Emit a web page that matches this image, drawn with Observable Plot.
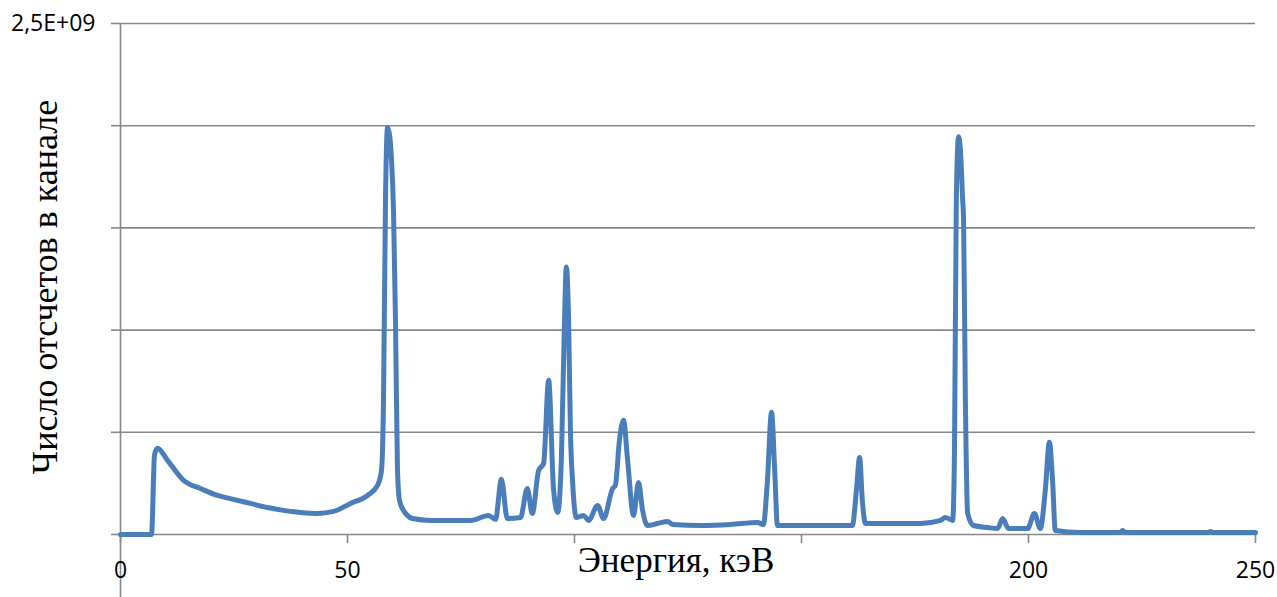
<!DOCTYPE html>
<html><head><meta charset="utf-8">
<script src="https://cdn.jsdelivr.net/npm/d3@7"></script>
<script src="https://cdn.jsdelivr.net/npm/@observablehq/plot@0.6"></script>
<style>
html,body{margin:0;padding:0;background:#fff;}
#chart{width:1277px;height:597px;overflow:hidden;}
</style>
</head><body><div id="chart"></div>
<script>
// Energy, keV
const energy = [0, 6.83, 7.5, 8.15, 10.35, 13.88, 17.62, 21.37, 24.89, 28.63, 32.38, 35.9, 39.65, 43.39, 46.92, 50.66, 54.41, 56.61, 57.49, 57.93, 58.37, 58.81, 59.25, 59.69, 60.13, 60.57, 61.01, 61.45, 62.33, 63.0, 64.3, 68.3, 72.7, 77.1, 81.06, 82.6, 83.9, 85.2, 88.1, 89.6, 90.7, 92.1, 93.2, 94.3, 95.4, 96.3, 97.1, 97.8, 98.2, 98.7, 99.1, 99.6, 100.4, 102.0, 103.1, 105.1, 106.4, 108.4, 109.0, 109.9, 110.8, 111.7, 113.0, 114.1, 115.0, 116.1, 118.3, 120.5, 121.6, 127.8, 134.4, 140.3, 141.6, 142.5, 143.4, 144.1, 144.7, 149.8, 156.4, 161.2, 162.1, 162.8, 163.4, 164.1, 171.8, 176.2, 180.6, 181.7, 183.3, 183.7, 184.1, 184.6, 185.0, 185.5, 185.7, 186.1, 186.6, 187.9, 191.0, 193.2, 194.3, 195.6, 199.8, 201.3, 202.6, 203.7, 204.6, 205.3, 205.9, 211.5, 220.3, 220.7, 221.4, 239.6, 240.1, 240.7, 250];
// Counts per channel
const counts = [0, 0, 3.9e8, 4.22e8, 3.63e8, 2.65e8, 2.25e8, 1.91e8, 1.72e8, 1.52e8, 1.32e8, 1.18e8, 1.08e8, 1.03e8, 1.13e8, 1.52e8, 1.91e8, 2.4e8, 3.14e8, 6.57e8, 1.637e9, 1.99e9, 1.956e9, 1.833e9, 1.588e9, 1.049e9, 3.14e8, 1.67e8, 1.18e8, 9.8e7, 7.8e7, 6.9e7, 6.9e7, 6.9e7, 9.3e7, 7.4e7, 2.7e8, 7.8e7, 8.3e7, 2.25e8, 1.03e8, 3.14e8, 3.48e8, 7.55e8, 2.16e8, 1.08e8, 3.63e8, 1.049e9, 1.309e9, 1.049e9, 5.1e8, 2.5e8, 8.3e7, 9.3e7, 6.9e7, 1.42e8, 7.8e7, 2.25e8, 2.4e8, 4.61e8, 5.59e8, 3.63e8, 9.3e7, 2.55e8, 1.18e8, 4.4e7, 5.4e7, 6.4e7, 4.9e7, 4.4e7, 4.9e7, 5.9e7, 4.9e7, 2.65e8, 5.98e8, 3.14e8, 4.4e7, 4.4e7, 4.4e7, 4.4e7, 2.16e8, 3.77e8, 1.67e8, 5.4e7, 5.4e7, 5.4e7, 6.9e7, 8.3e7, 6.9e7, 4.12e8, 1.637e9, 1.946e9, 1.882e9, 1.637e9, 1.539e9, 6.57e8, 1.03e8, 4.4e7, 3.4e7, 2.9e7, 7.8e7, 2.9e7, 2.9e7, 1.03e8, 2.9e7, 2.16e8, 4.51e8, 2.65e8, 2.0e7, 1.0e7, 1.0e7, 2.0e7, 1.0e7, 1.0e7, 1.5e7, 1.0e7, 1.0e7];

const xTicks = [0, 50, 100, 150, 200, 250];
const xTickLabels = ["0", "50", "", "", "200", "250"];
const yTicks = [0, 0.5e9, 1.0e9, 1.5e9, 2.0e9, 2.5e9];
const yTickLabels = ["", "", "", "", "", "2,5E+09"];
const xTitle = "Энергия, кэВ";
const yTitle = "Число отсчетов в канале";

const data = energy.map((e, i) => ({e, c: counts[i]}));
const xLab = new Map(xTicks.map((t, i) => [t, xTickLabels[i]]));
const yLab = new Map(yTicks.map((t, i) => [t, yTickLabels[i]]));
const gridColor = "#878787";

const svg = Plot.plot({
  width: 1277,
  height: 597,
  marginLeft: 120,
  marginRight: 22,
  marginTop: 23,
  marginBottom: 63,
  x: {domain: [0, 250], label: null},
  y: {domain: [0, 2.5e9], label: null},
  style: {fontFamily: "'Open Sans', sans-serif", fontSize: "23px", color: "#000", background: "#fff", overflow: "visible"},
  marks: [
    Plot.gridY(yTicks, {stroke: gridColor, strokeOpacity: 1, strokeWidth: 1.6}),
    Plot.ruleX([0], {stroke: gridColor, strokeWidth: 1.6, insetBottom: -63}),
    Plot.axisY(yTicks, {tickSize: 9, tickPadding: 16, tickFormat: d => yLab.get(d), stroke: gridColor, strokeWidth: 1.6, fill: "#000", label: null}),
    Plot.axisX(xTicks, {tickSize: 9, tickPadding: 18, tickFormat: d => xLab.get(d), stroke: gridColor, strokeWidth: 1.6, fill: "#000", label: null}),
    Plot.line(data, {x: "e", y: "c", stroke: "#4a7ebb", strokeWidth: 5, curve: "monotone-x", strokeLinejoin: "round", strokeLinecap: "round"})
  ]
});

const s = d3.select(svg);
s.selectAll("text").style("font-size", "23px").style("font-family", "'Open Sans', sans-serif");
s.append("text")
  .attr("x", 676).attr("y", 572)
  .attr("text-anchor", "middle")
  .style("font-family", "'Liberation Serif', 'Times New Roman', serif")
  .style("font-size", "35px")
  .attr("fill", "#000")
  .text(xTitle);
s.append("text")
  .attr("transform", "translate(57,287) rotate(-90)")
  .attr("text-anchor", "middle")
  .style("font-family", "'Liberation Serif', 'Times New Roman', serif")
  .style("font-size", "36px")
  .attr("fill", "#000")
  .text(yTitle);

document.getElementById("chart").appendChild(svg);
</script>
</body></html>
